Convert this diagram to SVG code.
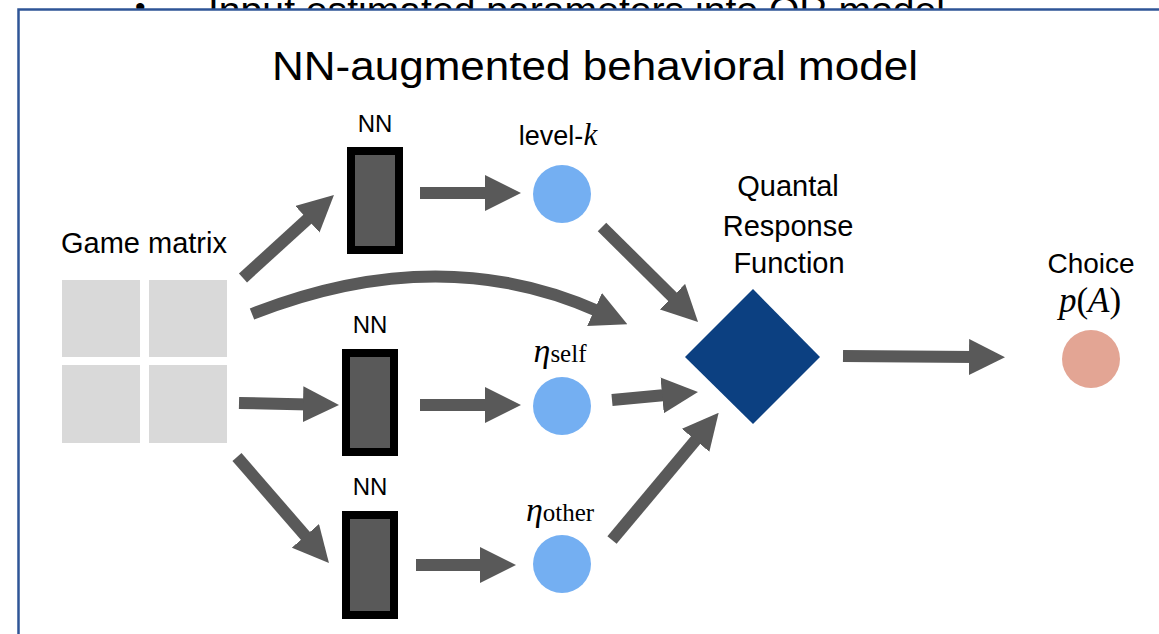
<svg xmlns="http://www.w3.org/2000/svg" width="1159" height="634" viewBox="0 0 1159 634">
  <defs>
    <style>
      .sans { font-family: "Liberation Sans", Arial, sans-serif; fill: #000; }
      .serif { font-family: "Liberation Serif", "Times New Roman", serif; fill: #000; }
      .arrow { stroke: #595959; stroke-width: 12; fill: none; marker-end: url(#head); }
      .nn { fill: #595959; stroke: #000; stroke-width: 8; }
      .cell { fill: #D9D9D9; }
      .param { fill: #74AFF2; }
    </style>
    <marker id="head" markerUnits="userSpaceOnUse" markerWidth="36" markerHeight="36" viewBox="0 0 36 36" refX="6" refY="18" orient="auto">
      <path d="M0,0 L36,18 L0,36 Z" fill="#595959"/>
    </marker>
  </defs>

  <rect width="1159" height="634" fill="#fff"/>

  <!-- clipped text from slide behind -->
  <g id="background-text">
    <text class="sans" x="135" y="17" font-size="30">•</text>
    <text class="sans" x="208" y="23" font-size="36" textLength="737" lengthAdjust="spacingAndGlyphs">Input estimated parameters into QR model</text>
  </g>

  <!-- frame -->
  <rect id="frame" x="18.5" y="9.5" width="1200" height="700" fill="#fff" stroke="#2F5597" stroke-width="2.5"/>

  <text id="title" class="sans" x="595" y="80" font-size="41" text-anchor="middle" textLength="646" lengthAdjust="spacingAndGlyphs">NN-augmented behavioral model</text>

  <g id="connectors">
    <line class="arrow" x1="243" y1="278" x2="311.8" y2="215.2"/>
    <line class="arrow" x1="239" y1="403" x2="309" y2="404.4"/>
    <line class="arrow" x1="237" y1="457" x2="309.3" y2="540.4"/>
    <line class="arrow" x1="420" y1="193" x2="491" y2="193"/>
    <line class="arrow" x1="420" y1="405" x2="491" y2="405"/>
    <line class="arrow" x1="416" y1="565" x2="486" y2="565"/>
    <path class="arrow" d="M252,314 Q440,240 600,312"/>
    <line class="arrow" x1="602" y1="227" x2="676.7" y2="300.9"/>
    <line class="arrow" x1="612" y1="400" x2="668.1" y2="394.8"/>
    <line class="arrow" x1="612" y1="540" x2="699.4" y2="435.7"/>
    <line class="arrow" x1="843" y1="356" x2="975" y2="357"/>
  </g>

  <g id="game-matrix">
    <text class="sans" x="144" y="253" font-size="29" text-anchor="middle">Game matrix</text>
    <rect class="cell" x="62" y="280" width="78" height="77"/>
    <rect class="cell" x="149" y="280" width="78" height="77"/>
    <rect class="cell" x="62" y="365" width="78" height="78"/>
    <rect class="cell" x="149" y="365" width="78" height="78"/>
  </g>

  <g id="nn1">
    <text class="sans" x="375" y="132" font-size="24" text-anchor="middle">NN</text>
    <rect class="nn" x="351" y="151" width="48" height="99"/>
  </g>
  <g id="nn2">
    <text class="sans" x="370" y="333" font-size="24" text-anchor="middle">NN</text>
    <rect class="nn" x="346" y="353" width="48" height="99"/>
  </g>
  <g id="nn3">
    <text class="sans" x="370" y="495" font-size="24" text-anchor="middle">NN</text>
    <rect class="nn" x="346" y="515" width="48" height="100"/>
  </g>

  <g id="level-k">
    <text x="558" y="145" text-anchor="middle"><tspan class="sans" font-size="27">level-</tspan><tspan class="serif" font-size="31" font-style="italic">k</tspan></text>
    <circle class="param" cx="562" cy="194" r="29"/>
  </g>
  <g id="eta-self">
    <text x="560" y="362" text-anchor="middle"><tspan class="serif" font-size="34" font-style="italic">η</tspan><tspan class="serif" font-size="25">self</tspan></text>
    <circle class="param" cx="562" cy="406" r="29"/>
  </g>
  <g id="eta-other">
    <text x="560" y="521" text-anchor="middle"><tspan class="serif" font-size="34" font-style="italic">η</tspan><tspan class="serif" font-size="25">other</tspan></text>
    <circle class="param" cx="562" cy="564" r="29"/>
  </g>

  <g id="qrf">
    <text class="sans" x="788" y="196" font-size="29" text-anchor="middle">Quantal</text>
    <text class="sans" x="788" y="236" font-size="29" text-anchor="middle">Response</text>
    <text class="sans" x="789" y="273" font-size="29" text-anchor="middle">Function</text>
    <polygon points="753,289 820,357 753,424 685,357" fill="#0C4081"/>
  </g>

  <g id="choice">
    <text class="sans" x="1091" y="273" font-size="28" text-anchor="middle">Choice</text>
    <text class="serif" x="1090" y="312" font-size="35" text-anchor="middle"><tspan font-style="italic">p</tspan>(<tspan font-style="italic">A</tspan>)</text>
    <circle cx="1091" cy="359" r="29" fill="#E3A594"/>
  </g>
</svg>
